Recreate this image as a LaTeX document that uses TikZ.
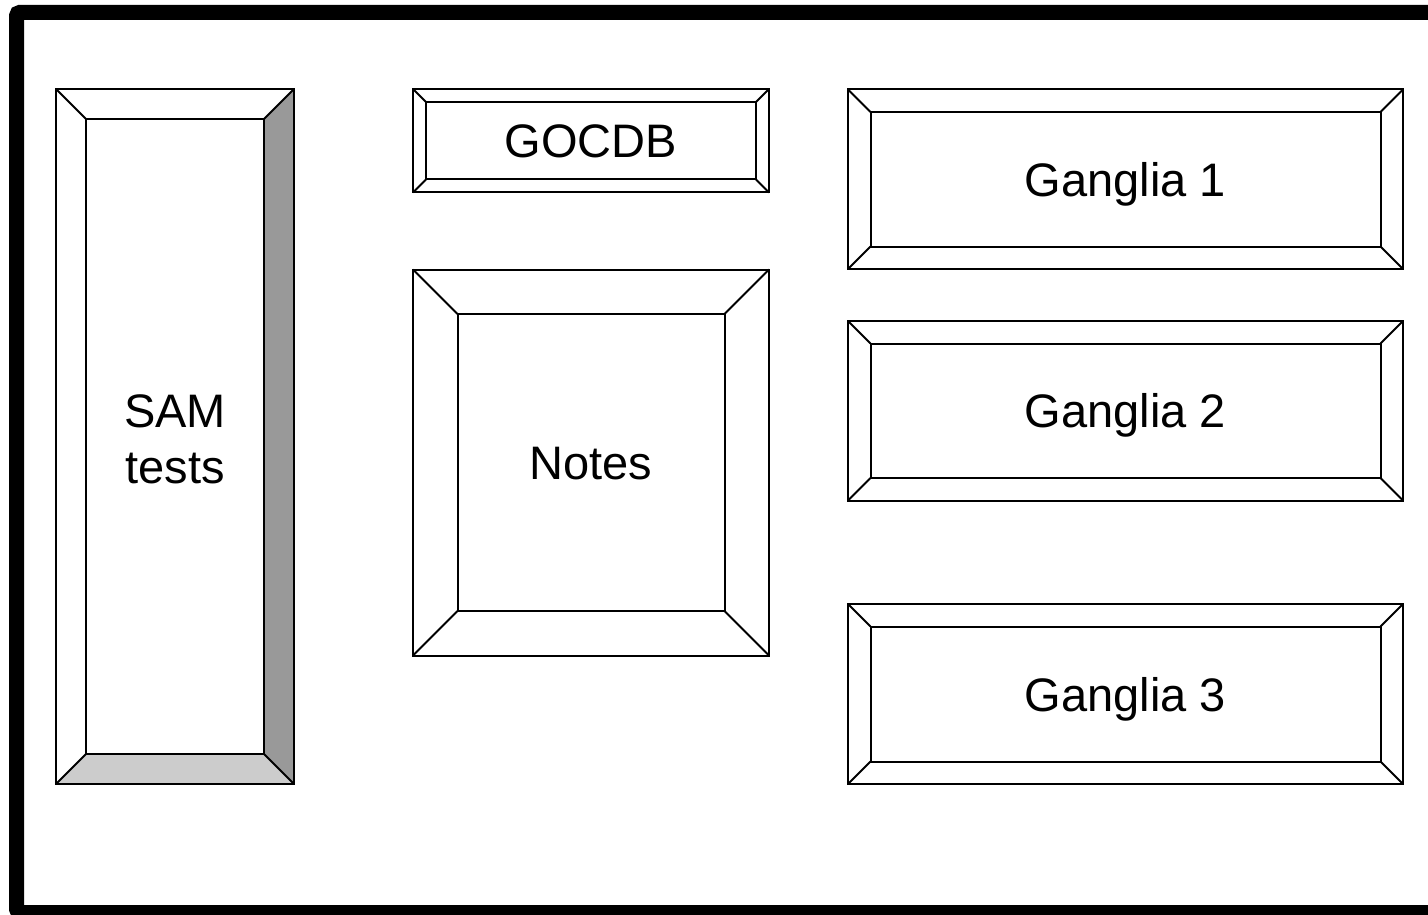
\documentclass[tikz,border=0pt]{standalone}
\usepackage{fontspec}
\setmainfont{Liberation Sans}
\newcommand\bevelbox[9]{%
  \fill[#8] (#4,#3) -- (#4,#5) -- ({#4-#6},{#5-#6}) -- ({#4-#6},{#3+#6}) -- cycle;
  \fill[#9] (#2,#5) -- (#4,#5) -- ({#4-#6},{#5-#6}) -- ({#2+#6},{#5-#6}) -- cycle;
  \draw[boxline] (#2,#3) rectangle (#4,#5);
  \node[innerbox, minimum width={#4-#2-2*#6}, minimum height={#5-#3-2*#6}] (#1) at ({(#2+#4)/2},{(#3+#5)/2}) {};
  \draw[boxline] (#2,#3) -- (#1.north west) (#4,#3) -- (#1.north east)
                 (#2,#5) -- (#1.south west) (#4,#5) -- (#1.south east);
  \node[boxtext] (#1-text) at (#1.center) {#7};
}
\tikzset{
  boxline/.style={line width=2pt, black, line join=miter},
  innerbox/.style={draw, line width=2pt, inner sep=0pt, outer sep=0pt},
  boxtext/.style={inner sep=0pt, align=center, text height=34pt, text depth=0pt,
    font=\fontsize{47}{56}\selectfont},
  frameline/.style={line width=15pt, black, rounded corners=3pt}
}
\begin{document}
\begin{tikzpicture}[x=1pt,y=-1pt]
\useasboundingbox (0,0) rectangle (1428,915);
\clip (0,0) rectangle (1428,915);
\fill[white] (0,0) rectangle (1428,915);
\draw[frameline] (16.7,12.5) rectangle (1460,912.5);
\begin{scope}[boxtext/.style={inner sep=0pt, align=center, yshift=-2.5pt,
    font=\fontsize{47}{56}\selectfont}]
\bevelbox{sam}{56}{89}{294}{784}{30}{SAM\\tests}{black!40}{black!20}
\end{scope}
\bevelbox{gocdb}{413}{89}{769}{192.5}{13}{GOCDB}{white}{white}
\bevelbox{notes}{413}{269.5}{769}{655.5}{44.5}{Notes}{white}{white}
\bevelbox{ganglia1}{848}{89.5}{1403}{269}{22.5}{Ganglia 1}{white}{white}
\bevelbox{ganglia2}{848}{321}{1403}{500.5}{22.5}{Ganglia 2}{white}{white}
\bevelbox{ganglia3}{848}{604}{1403}{784}{22.5}{Ganglia 3}{white}{white}
\end{tikzpicture}
\end{document}
